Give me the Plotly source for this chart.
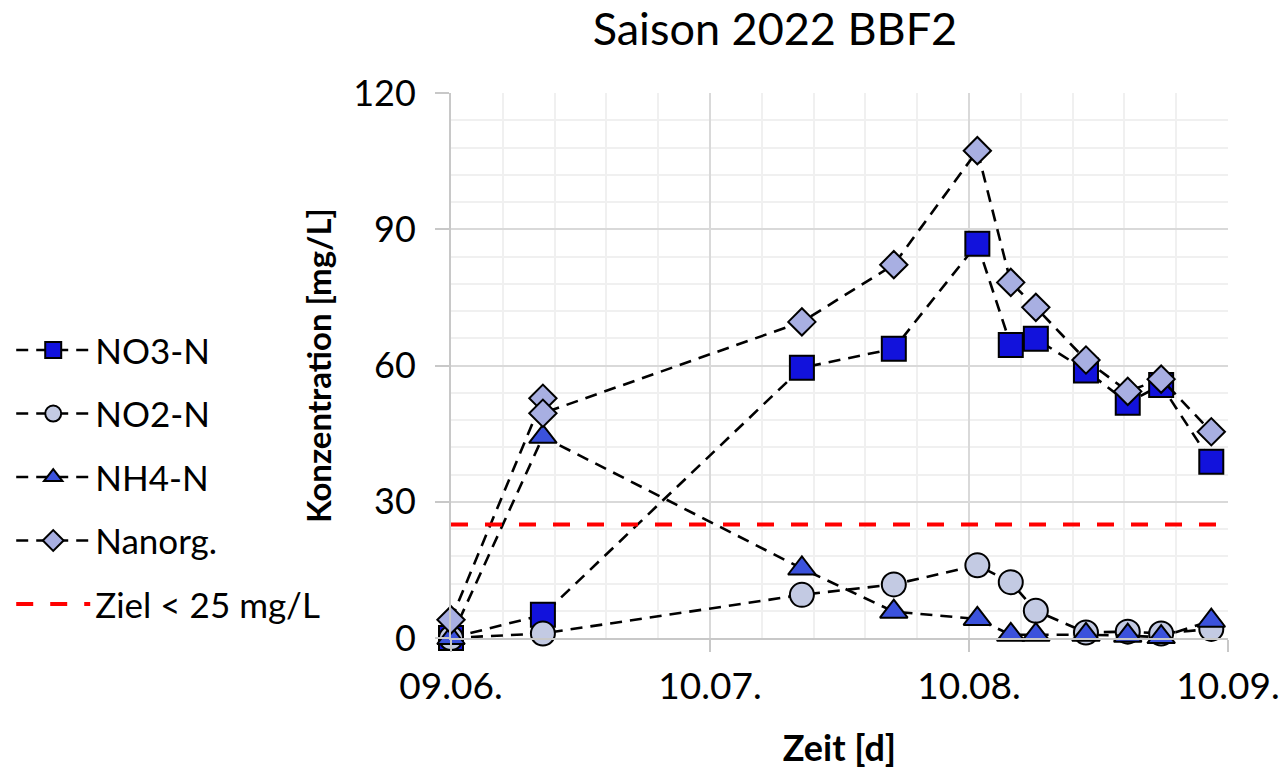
import datetime as dt
import plotly.graph_objects as go

# ---- data ----
dates = ["2022-06-09", "2022-06-20", "2022-07-21", "2022-08-01", "2022-08-11",
         "2022-08-15", "2022-08-18", "2022-08-24", "2022-08-29", "2022-09-02",
         "2022-09-08"]
no3_n = [0.0, 5.1, 59.5, 63.7, 86.8, 64.5, 65.9, 58.9, 51.8, 55.7, 38.8]
no2_n = [0.0, 1.0, 9.5, 11.8, 16.0, 12.3, 6.0, 1.2, 1.4, 1.0, 2.0]
nh4_n = [0.0, 44.3, 15.3, 5.8, 4.2, 0.7, 0.7, 0.7, 0.5, 0.2, 3.8]
nanorg_dates = ["2022-06-09", "2022-06-20", "2022-06-20", "2022-07-21", "2022-08-01",
                "2022-08-11", "2022-08-15", "2022-08-18", "2022-08-24", "2022-08-29",
                "2022-09-02", "2022-09-08"]
nanorg = [4.0, 52.8, 49.5, 69.6, 82.2, 107.3, 78.3, 72.8, 61.2, 54.3, 57.0, 45.4]
ziel_value = 25
x_range = ["2022-06-09", "2022-09-10"]
y_range = [0, 120]
major_days = 31          # Excel major unit (days)
minor_parts = 5          # minor gridlines per major step

FONT = "Lato"
DAY_MS = 86400000

# minor gridline positions derived from axis settings
x0 = dt.datetime.fromisoformat(x_range[0])
x1 = dt.datetime.fromisoformat(x_range[1])
minor_vals = []
k = 1
while True:
    d = x0 + dt.timedelta(days=major_days * k / minor_parts)
    if d > x1:
        break
    if k % minor_parts:
        minor_vals.append(d.isoformat())
    k += 1

line_style = dict(color="black", width=2.6, dash="12px,8px")

fig = go.Figure()
fig.add_trace(go.Scatter(
    x=dates, y=no3_n, name="NO3-N", mode="lines+markers", legendgroup="a",
    line=line_style,
    marker=dict(symbol="square", size=24, color="#1212DC",
                line=dict(color="black", width=2)),
    cliponaxis=False))
fig.add_trace(go.Scatter(
    x=dates, y=no2_n, name="NO2-N", mode="lines+markers", legendgroup="b",
    line=line_style,
    marker=dict(symbol="circle", size=24, color="#C3CAE3",
                line=dict(color="black", width=2)),
    cliponaxis=False))
fig.add_trace(go.Scatter(
    x=dates, y=nh4_n, name="NH4-N", mode="lines+markers", legendgroup="c",
    line=line_style,
    marker=dict(symbol="triangle-up", size=24, color="#3B52DC",
                line=dict(color="black", width=2)),
    cliponaxis=False))
fig.add_trace(go.Scatter(
    x=nanorg_dates, y=nanorg, name="Nanorg.", mode="lines+markers", legendgroup="d",
    line=line_style,
    marker=dict(symbol="diamond", size=21, color="#A8AFE2",
                line=dict(color="black", width=2)),
    cliponaxis=False))
fig.add_trace(go.Scatter(
    x=x_range, y=[ziel_value, ziel_value], name="Ziel < 25 mg/L", mode="lines",
    legendgroup="e",
    line=dict(color="#FF0000", width=4, dash="17px,17px")))

fig.update_layout(
    width=1283, height=774,
    margin=dict(l=451, r=55, t=93, b=136),
    paper_bgcolor="white", plot_bgcolor="white",
    font=dict(family=FONT, color="black"),
    title=dict(text="Saison 2022 BBF2", x=0.604, xanchor="center", y=0.962,
               yanchor="middle", font=dict(size=45, family=FONT, color="black")),
    showlegend=True,
    legend=dict(x=-0.566, xanchor="left", y=0.582, yanchor="top",
                font=dict(size=35, family=FONT, color="black"),
                tracegroupgap=15, bgcolor="rgba(0,0,0,0)",
                itemwidth=74),
)

fig.update_xaxes(
    type="date", range=x_range, automargin=False,
    tick0=x_range[0], dtick=major_days * DAY_MS, tickformat="%d.%m.",
    ticks="outside", ticklen=12, tickwidth=2, tickcolor="#C8C8C8",
    showline=True, linecolor="#C8C8C8", linewidth=2,
    showgrid=True, gridcolor="#D9D9D9", gridwidth=2,
    minor=dict(tickmode="array", tickvals=minor_vals, showgrid=True,
               gridcolor="#F0F0F0", gridwidth=2, ticks=""),
    tickfont=dict(size=37, family=FONT, color="black"),
    ticklabelstandoff=3,
    title=dict(text="<b>Zeit [d]</b>", font=dict(size=36, family=FONT, color="black"),
               standoff=29),
    zeroline=False,
)
fig.update_yaxes(
    range=y_range, dtick=30, tick0=0, automargin=False,
    ticks="outside", ticklen=14, tickwidth=2, tickcolor="#C8C8C8",
    showline=True, linecolor="#C8C8C8", linewidth=2,
    showgrid=True, gridcolor="#D9D9D9", gridwidth=2,
    minor=dict(dtick=6, showgrid=True, gridcolor="#F0F0F0", gridwidth=2, ticks=""),
    tickfont=dict(size=36, family=FONT, color="black"),
    ticklabelstandoff=12,
    title=dict(text="<b>Konzentration [mg/L]</b>",
               font=dict(size=33, family=FONT, color="black"), standoff=12),
    zeroline=False,
)

fig.write_html("out.html")
